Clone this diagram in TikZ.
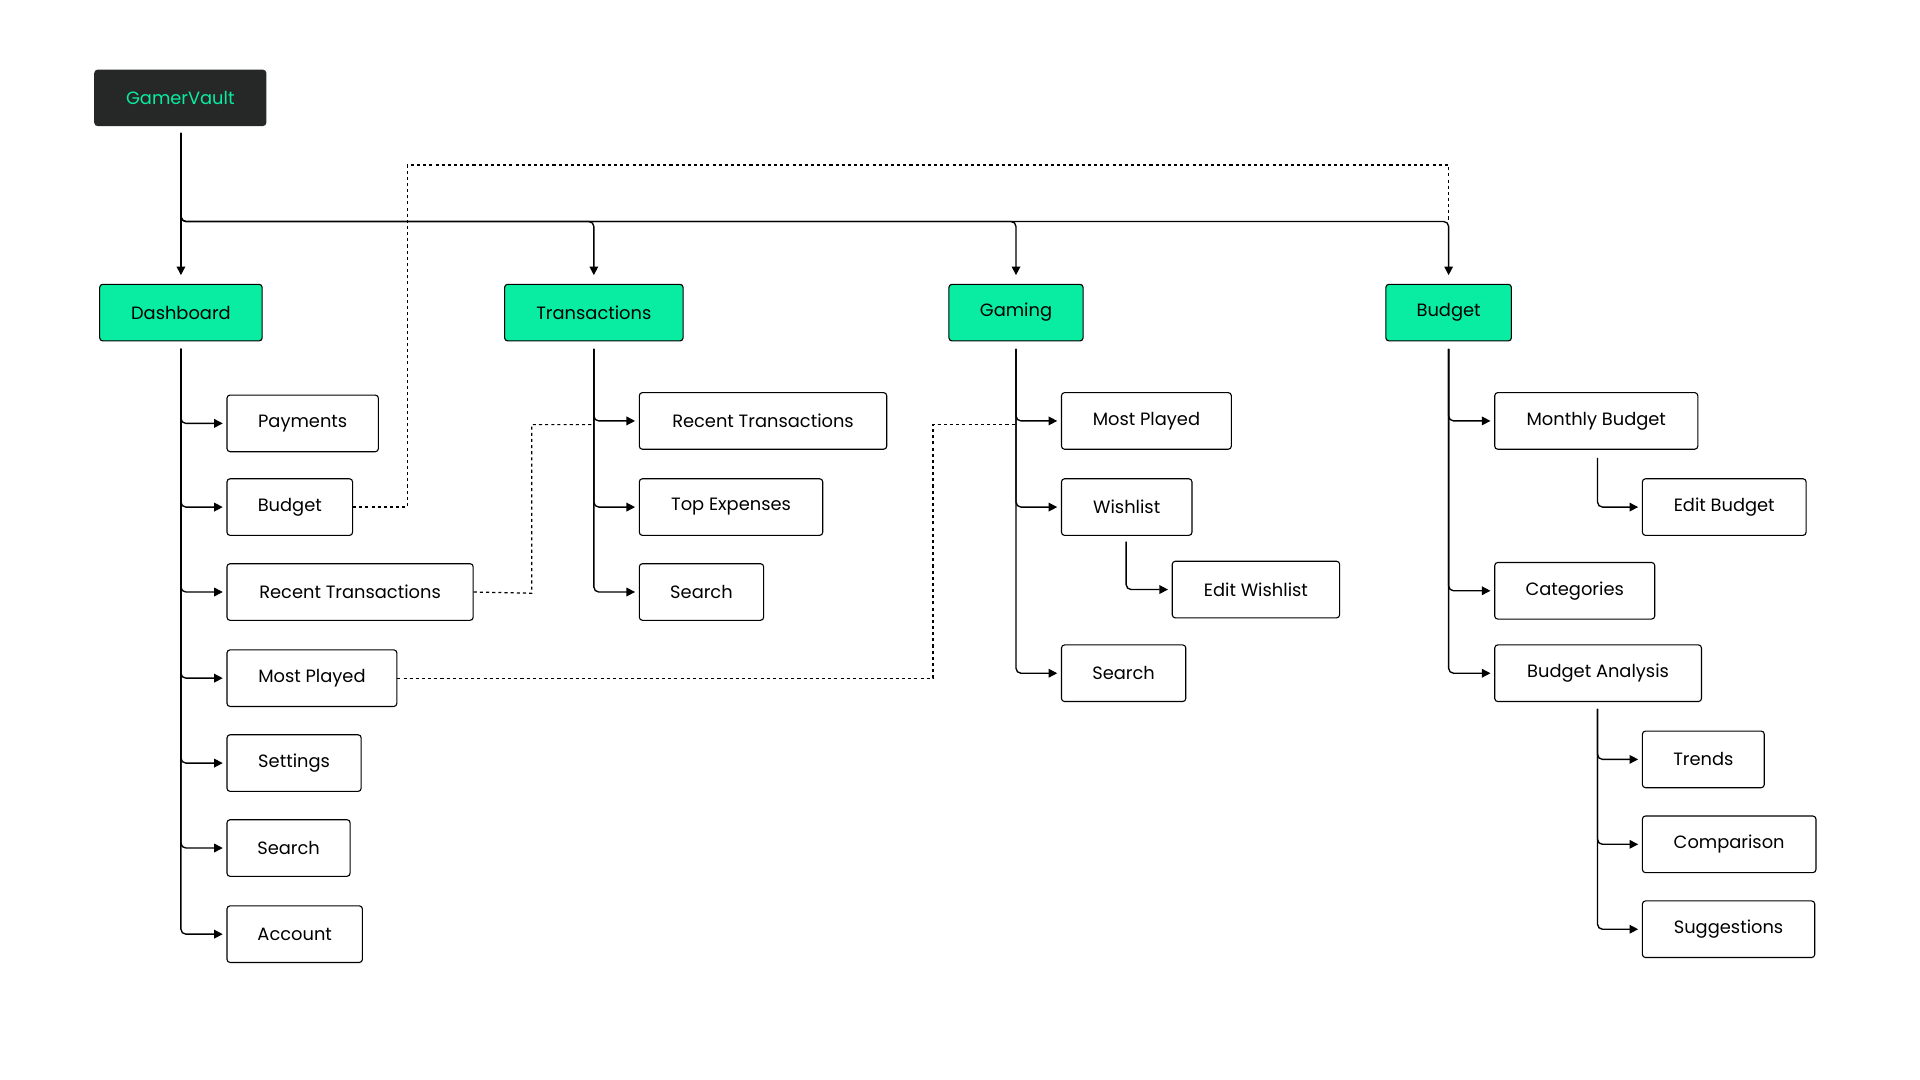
\documentclass[tikz,border=0pt]{standalone}
\usepackage{fontspec}
\setmainfont{Poppins}
\usetikzlibrary{arrows.meta}
\definecolor{mint}{HTML}{08EDA2}
\definecolor{dark}{HTML}{262827}
\begin{document}
\begin{tikzpicture}[x=1pt,y=-1pt,
 box/.style={draw=black,line width=0.9pt,rounded corners=2.5pt,minimum height=46pt,inner sep=0pt,anchor=west,font=\fontsize{14.5}{17}\selectfont},
 top/.style={box,fill=mint,anchor=center},
 ln/.style={line width=1.1pt,rounded corners=4pt,-{Triangle[length=7pt,width=7pt]}},
 dl/.style={line width=1pt,dash pattern=on 2.5pt off 2.5pt}]
\useasboundingbox (0,0) rectangle (1560,877.5);
\node[box,anchor=center,fill=dark,draw=dark,text=mint,minimum width=139pt,minimum height=45pt] (root) at (146.5,79.5) {GamerVault};
\node[top,minimum width=132pt] (dash) at (147,254) {Dashboard};
\node[top,minimum width=145pt] (tran) at (482.5,254) {Transactions};
\node[top,minimum width=109pt] (game) at (825.5,254) {Gaming};
\node[top,minimum width=102pt] (budg) at (1177,254) {Budget};
% dashboard
\node[box,minimum width=123pt] (d1) at (184,344) {Payments};
\node[box,minimum width=102pt] (d2) at (184,412) {Budget};
\node[box,minimum width=200pt] (d3) at (184,481) {Recent Transactions};
\node[box,minimum width=138pt] (d4) at (184,551) {Most Played};
\node[box,minimum width=109pt] (d5) at (184,620) {Settings};
\node[box,minimum width=100pt] (d6) at (184,689) {Search};
\node[box,minimum width=110pt] (d7) at (184,759) {Account};
% transactions
\node[box,minimum width=201pt] (t1) at (519,342) {Recent Transactions};
\node[box,minimum width=149pt] (t2) at (519,412) {Top Expenses};
\node[box,minimum width=101pt] (t3) at (519,481) {Search};
% gaming
\node[box,minimum width=138pt] (g1) at (862,342) {Most Played};
\node[box,minimum width=106pt] (g2) at (862,412) {Wishlist};
\node[box,minimum width=136pt] (g3) at (952,479) {Edit Wishlist};
\node[box,minimum width=101pt] (g4) at (862,547) {Search};
% budget
\node[box,minimum width=165pt] (b1) at (1214,342) {Monthly Budget};
\node[box,minimum width=133pt] (b2) at (1334,412) {Edit Budget};
\node[box,minimum width=130pt] (b3) at (1214,480) {Categories};
\node[box,minimum width=168pt] (b4) at (1214,547) {Budget Analysis};
\node[box,minimum width=99pt] (b5) at (1334,617) {Trends};
\node[box,minimum width=141pt] (b6) at (1334,686) {Comparison};
\node[box,minimum width=140pt] (b7) at (1334,755) {Suggestions};
% root links
\coordinate (rs) at (147,108);
\draw[ln] (rs) -- ([yshift=7pt]dash.north);
\draw[ln] (rs) |- (482.5,180) -- ([yshift=7pt]tran.north);
\draw[ln] (rs) |- (825.5,180) -- ([yshift=7pt]game.north);
\draw[ln] (rs) |- (1177,180) -- ([yshift=7pt]budg.north);
% trunks
\foreach \c in {d1,d2,d3,d4,d5,d6,d7}
  \draw[ln] ([yshift=-6pt]dash.south) |- ([xshift=-3pt]\c.west);
\foreach \c in {t1,t2,t3}
  \draw[ln] ([yshift=-6pt]tran.south) |- ([xshift=-3pt]\c.west);
\foreach \c in {g1,g2,g4}
  \draw[ln] ([yshift=-6pt]game.south) |- ([xshift=-3pt]\c.west);
\foreach \c in {b1,b3,b4}
  \draw[ln] ([yshift=-6pt]budg.south) |- ([xshift=-3pt]\c.west);
\draw[ln] (915,440) |- ([xshift=-3pt]g3.west);
\draw[ln] (1298,372) |- ([xshift=-3pt]b2.west);
\foreach \c in {b5,b6,b7}
  \draw[ln] (1298,576) |- ([xshift=-3pt]\c.west);
% dashed
\draw[dl] (d2.east) -- (331,412) -- (331,134) -- (1177,134) -- (1177,180);
\draw[dl] (d3.east) -- (432,482) -- (432,345) -- (482.5,345);
\draw[dl] (d4.east) -- (758,551) -- (758,345) -- (825.5,345);
\end{tikzpicture}
\end{document}
